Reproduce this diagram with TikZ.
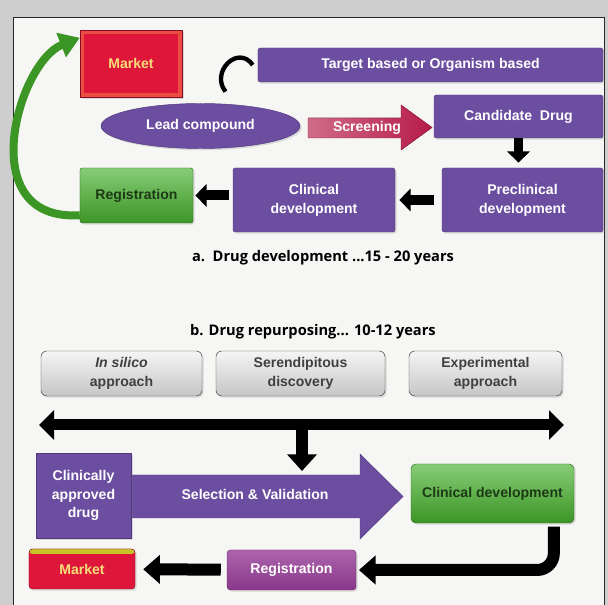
\documentclass[tikz,border=0pt]{standalone}
\usepackage{fontspec}
\setmainfont{Liberation Sans}
\newfontfamily\capfont{Open Sans}
\usetikzlibrary{arrows.meta,shapes.geometric,shadows}

\definecolor{boxpurple}{RGB}{108,78,160}
\definecolor{boxpurpleedge}{RGB}{82,56,128}
\definecolor{regmag}{RGB}{152,62,152}
\definecolor{mktred}{RGB}{222,22,58}
\definecolor{mktbevel}{RGB}{234,78,66}
\definecolor{mkttext}{RGB}{244,222,120}
\definecolor{mktstrip}{RGB}{200,196,40}
\definecolor{scrnred}{RGB}{182,28,72}
\definecolor{boxgreen}{RGB}{70,176,44}
\definecolor{greentext}{RGB}{28,58,22}
\definecolor{panelbg}{RGB}{246,246,244}
\definecolor{framegray}{RGB}{206,206,206}

\begin{document}
\begin{tikzpicture}[x=0.3mm, y=-0.3mm,
  every node/.style={font=\bfseries\fontsize{12}{16}\selectfont, align=center},
  box/.style={draw, rounded corners=2pt, text=white, inner sep=2pt,
              drop shadow={opacity=0.25, shadow xshift=0.5mm, shadow yshift=-0.5mm}},
  purplebox/.style={box, fill=boxpurple, draw=boxpurpleedge},
  greenbox/.style={box, top color=boxgreen!65!white, bottom color=boxgreen!85!black,
                   draw=boxgreen!60!black, text=greentext},
  greybox/.style={box, top color=gray!8, bottom color=gray!45, draw=gray!55!black,
                  text=black!75, rounded corners=5pt},
  mktbox/.style={box, draw=mktred!60!black, fill=mktbevel, text=mkttext},
  arr/.style={-{Triangle[length=3.4mm, width=6.6mm]}, line width=3mm},
  fatarr/.style={-{Triangle[length=5mm, width=8.4mm]}, line width=3.6mm},
  capt/.style={font=\capfont\bfseries\fontsize{12.5}{14}\selectfont, text=black}
]
\useasboundingbox (0,0) rectangle (608,605);
% frame and panel
\fill[framegray] (0,0) rectangle (608,605);
\filldraw[fill=panelbg, draw=black!85, line width=0.6pt] (13,17) rectangle (604,612);

% a. drug development
\node[mktbox, rounded corners=0pt, minimum width=30.6mm, minimum height=20.1mm,
      path picture={\fill[mktred] ([shift={(1.3mm,-1.3mm)}]path picture bounding box.north west)
        rectangle ([shift={(-1.3mm,1.3mm)}]path picture bounding box.south east);}]
      (mkta) at (131,63.5) {Market};
\node[purplebox, minimum width=103.5mm, minimum height=10.2mm] (target) at (430.5,65) {Target based or Organism based};
\node[purplebox, ellipse, minimum width=59.7mm, minimum height=13.5mm] (lead) at (200.5,126) {Lead compound};
\node[purplebox, minimum width=50.7mm, minimum height=12.9mm] (cand) at (518.5,116.5) {Candidate\ \ Drug};
\node[purplebox, minimum width=48.3mm, minimum height=19.2mm] (precl) at (522.5,200) {Preclinical\\development};
\node[purplebox, minimum width=48.6mm, minimum height=19.2mm] (clin) at (314,200) {Clinical\\development};
\node[greenbox, minimum width=33.9mm, minimum height=16.5mm] (rega) at (136.5,195.5) {Registration};

% screening block arrow
\filldraw[left color=scrnred!65!white, right color=scrnred, draw=scrnred!80!black]
  (308,118) -- (401,118) -- (401,105) -- (432,127.5) -- (401,150) -- (401,138) -- (308,138) -- cycle;
\node[text=white] (scrn) at (367,128) {Screening};

% flow arrows
\draw[line width=1.3mm] ([xshift=7.5mm,yshift=3.5mm]lead.north) .. controls (210,72) and (238,44) .. ([xshift=-1.5mm]target.west);
\draw[arr, line width=2.5mm, shorten >=1.5mm] (cand.south) -- (cand.south |- precl.north);
\draw[arr, shorten <=2.4mm, shorten >=1.2mm] (precl) -- (clin);
\draw[arr, shorten <=1.2mm, shorten >=0.6mm] (clin.west |- rega.east) -- (rega.east);
\draw[boxgreen!85!black, line width=2.4mm, -{Triangle[length=6mm, width=7.5mm]}]
  ([yshift=2.4mm]rega.south west) .. controls (-28,222) and (18,62) .. ([yshift=-2.4mm]mkta.north west);

\node[capt] (capa) at (323,258) {a.\ \ Drug development ...15 - 20 years};

% b. drug repurposing
\node[capt] (capb) at (313,332) {b. Drug repurposing... 10-12 years};
\node[greybox, minimum width=48.3mm, minimum height=13.5mm] (silico) at (121.5,373.5) {\textit{In silico}\\approach};
\node[greybox, minimum width=50.7mm, minimum height=13.5mm] (seren) at (300.5,373.5) {Serendipitous\\discovery};
\node[greybox, minimum width=45.9mm, minimum height=13.5mm] (expt) at (485.5,373.5) {Experimental\\approach};

\coordinate (dl) at (39,425);
\coordinate (dr) at (564,425);
\coordinate (dm) at (302,425);
\coordinate (dtip) at (302,471);
\draw[line width=3.3mm, {Triangle[length=4.5mm, width=8.7mm]}-{Triangle[length=4.5mm, width=8.7mm]}] (dl) -- (dr);
\draw[line width=3.6mm, -{Triangle[length=5mm, width=8.7mm]}] (dm) -- (dtip);

% selection block arrow
\filldraw[fill=boxpurple, draw=boxpurpleedge]
  (125,475) -- (360,475) -- (360,454) -- (403,496.5) -- (360,539) -- (360,518) -- (125,518) -- cycle;
\node[text=white] (sel) at (255,494) {Selection \& Validation};
\node[purplebox, rounded corners=0pt, minimum width=28.5mm, minimum height=25.5mm] (cad) at (83.5,495.5) {Clinically\\approved\\drug};
\node[greenbox, rounded corners=4pt, minimum width=48.9mm, minimum height=17.7mm] (clindev) at (492.5,493.5) {Clinical development};

\node[mktbox, fill=mktred, rounded corners=3pt, minimum width=31.8mm, minimum height=12mm,
      path picture={\fill[mktstrip] (path picture bounding box.north west)
        rectangle ([yshift=-1.5mm]path picture bounding box.north east);}]
      (mktb) at (82,569) {Market};
\node[box, top color=regmag!80!white, bottom color=regmag!90!black, draw=regmag!70!black,
      rounded corners=3pt, minimum width=38.7mm, minimum height=12mm] (regb) at (291.5,570) {Registration};

\draw[fatarr, rounded corners=5mm, shorten <=1mm, shorten >=0.8mm] ([xshift=18.4mm]clindev.south) |- (regb.east);
\draw[fatarr, shorten <=1.8mm, shorten >=2.4mm] (regb) -- (mktb);
\end{tikzpicture}
\end{document}
